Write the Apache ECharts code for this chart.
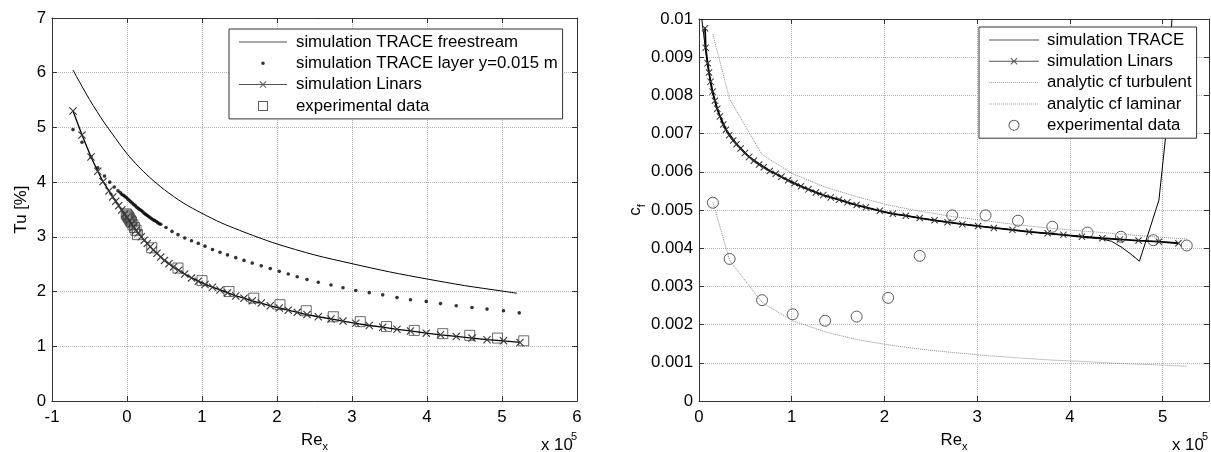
<!DOCTYPE html>
<html>
<head>
<meta charset="utf-8">
<script src="https://cdn.jsdelivr.net/npm/echarts@6/dist/echarts.min.js"></script>
<style>
  html, body { margin: 0; background: #fff; }
  #chart { width: 1211px; height: 452px; }
</style>
</head>
<body>
<div id="chart"></div>
<script>
// ---- left panel: Tu [%] over Re_x (x 10^5) ----
const tuFreeX = [-0.72, -0.6, -0.5, -0.4, -0.3, -0.2, -0.1, 0, 0.15, 0.3, 0.5, 0.75, 1.0, 1.25, 1.5, 1.75, 2.0, 2.5, 3.0, 3.5, 4.0, 4.5, 5.0, 5.2]
const tuFreeY = [6.05, 5.75, 5.51, 5.29, 5.08, 4.89, 4.70, 4.52, 4.29, 4.09, 3.86, 3.62, 3.43, 3.26, 3.12, 2.99, 2.87, 2.67, 2.51, 2.36, 2.23, 2.11, 2.01, 1.97]

const tuLayerX = [-0.72, -0.60, -0.48, -0.39, -0.30, -0.23, -0.17, -0.12,
  -0.09, -0.07, -0.05, -0.03, -0.01, 0.01, 0.03, 0.05, 0.07, 0.09, 0.11, 0.13, 0.15, 0.17, 0.19, 0.21,
  0.23, 0.25, 0.27, 0.29, 0.31, 0.33, 0.35, 0.37, 0.39, 0.41, 0.43, 0.45,
  0.52, 0.60, 0.68, 0.77, 0.86, 0.95, 1.04, 1.14, 1.24, 1.34, 1.45, 1.56, 1.67, 1.79, 1.91, 2.03,
  2.15, 2.27, 2.40, 2.55, 2.72, 2.88, 3.05, 3.23, 3.41, 3.60, 3.78, 3.99, 4.18, 4.39, 4.60, 4.80, 5.02, 5.23]
const tuLayerY = [4.96, 4.73, 4.46, 4.26, 4.11, 4.00, 3.91, 3.84,
  3.81, 3.78, 3.76, 3.74, 3.72, 3.69, 3.67, 3.64, 3.62, 3.59, 3.57, 3.54, 3.52, 3.50, 3.48, 3.46,
  3.43, 3.41, 3.39, 3.37, 3.35, 3.33, 3.31, 3.30, 3.28, 3.26, 3.24, 3.23,
  3.17, 3.10, 3.04, 2.98, 2.93, 2.88, 2.83, 2.77, 2.72, 2.67, 2.62, 2.57, 2.52, 2.47, 2.42, 2.37,
  2.32, 2.27, 2.22, 2.17, 2.12, 2.07, 2.02, 1.98, 1.94, 1.89, 1.85, 1.82, 1.78, 1.74, 1.71, 1.68, 1.65, 1.61]

const tuLinarsX = [-0.72, -0.60, -0.48, -0.39, -0.32, -0.24, -0.19, -0.15, -0.11, -0.07, -0.03, 0.00,
  0.03, 0.06, 0.09, 0.12, 0.15, 0.19, 0.23, 0.27, 0.31, 0.35, 0.40, 0.45, 0.50, 0.56, 0.62, 0.69,
  0.77, 0.86, 0.95, 1.04, 1.14, 1.24, 1.34, 1.45, 1.56, 1.67, 1.79, 1.91, 2.03, 2.15, 2.27, 2.40,
  2.55, 2.72, 2.88, 3.05, 3.23, 3.41, 3.60, 3.78, 3.99, 4.18, 4.39, 4.60, 4.80, 5.02, 5.24]
const tuLinarsY = [5.30, 4.86, 4.46, 4.20, 4.01, 3.84, 3.73, 3.65, 3.57, 3.49, 3.42, 3.36,
  3.30, 3.24, 3.18, 3.12, 3.07, 3.00, 2.94, 2.88, 2.82, 2.76, 2.70, 2.63, 2.57, 2.51, 2.45, 2.39,
  2.32, 2.25, 2.19, 2.13, 2.08, 2.03, 1.98, 1.92, 1.88, 1.83, 1.79, 1.74, 1.70, 1.66, 1.62, 1.58,
  1.54, 1.50, 1.46, 1.42, 1.38, 1.35, 1.31, 1.28, 1.24, 1.21, 1.18, 1.15, 1.12, 1.10, 1.07]

const tuExpX = [-0.01, 0.00, 0.01, 0.02, 0.03, 0.04, 0.05, 0.06, 0.08, 0.10, 0.12, 0.14,
  0.33, 0.68, 1.00, 1.36, 1.69, 2.04, 2.39, 2.75, 3.11, 3.46, 3.83, 4.21, 4.57, 4.94, 5.29]
const tuExpY = [3.42, 3.40, 3.38, 3.36, 3.34, 3.31, 3.29, 3.27, 3.22, 3.17, 3.12, 3.04,
  2.80, 2.43, 2.20, 2.00, 1.88, 1.76, 1.65, 1.54, 1.45, 1.36, 1.29, 1.23, 1.20, 1.15, 1.10]

// ---- right panel: c_f over Re_x (x 10^5) ----
const cfTraceX = [0.03, 0.05, 0.07, 0.10, 0.14, 0.20, 0.30, 0.40, 0.55, 0.80, 1.00, 1.34, 1.69, 2.05, 2.41,
  2.77, 3.13, 3.56, 4.10, 4.35, 4.45, 4.56, 4.67, 4.75, 4.96, 5.04, 5.10]
const cfTraceY = [0.0100, 0.0096, 0.0092, 0.0087, 0.0081, 0.0076, 0.00709, 0.00676, 0.00638, 0.00598, 0.00571,
  0.00539, 0.00513, 0.00492, 0.00478, 0.00465, 0.00455, 0.00443, 0.00431, 0.00424, 0.00418, 0.00402,
  0.00382, 0.00366, 0.00526, 0.00710, 0.0100]

const cfLinarsX = [0.065, 0.072, 0.093, 0.108, 0.125, 0.147, 0.172, 0.197, 0.226, 0.262, 0.290, 0.326,
  0.369, 0.405, 0.448, 0.495, 0.541, 0.591, 0.649, 0.699, 0.763, 0.828, 0.889, 0.961, 1.03, 1.10,
  1.18, 1.26, 1.34, 1.42, 1.51, 1.60, 1.70, 1.80, 1.95, 2.09, 2.23, 2.38, 2.54, 2.68, 2.84, 3.01,
  3.18, 3.38, 3.56, 3.76, 3.93, 4.13, 4.35, 4.54, 4.74, 4.96, 5.17]
const cfLinarsY = [0.00976, 0.00925, 0.00884, 0.00860, 0.00836, 0.00810, 0.00786, 0.00765, 0.00745,
  0.00724, 0.00710, 0.00696, 0.00682, 0.00672, 0.00661, 0.00649, 0.00639, 0.00629, 0.00619, 0.00612,
  0.00602, 0.00595, 0.00587, 0.00578, 0.00570, 0.00562, 0.00554, 0.00546, 0.00539, 0.00533, 0.00527,
  0.00520, 0.00513, 0.00507, 0.00498, 0.00490, 0.00485, 0.00479, 0.00473, 0.00468, 0.00463, 0.00458,
  0.00453, 0.00448, 0.00443, 0.00439, 0.00435, 0.00430, 0.00426, 0.00423, 0.00420, 0.00417, 0.00413]

const cfExpX = [0.15, 0.33, 0.68, 1.01, 1.36, 1.70, 2.04, 2.38, 2.73, 3.09, 3.44, 3.81, 4.19, 4.55, 4.90, 5.26]
const cfExpY = [0.00519, 0.00372, 0.00264, 0.00227, 0.00210, 0.00221, 0.00270, 0.00380, 0.00486, 0.00486,
  0.00472, 0.00456, 0.00441, 0.00430, 0.00421, 0.00407]
const cfTurbY = [0.0096, 0.0079, 0.00645, 0.00595, 0.00560, 0.00535, 0.00513, 0.00497, 0.00483, 0.00472,
  0.00461, 0.00452, 0.00444, 0.00437, 0.00430, 0.00424]
const cfLamY = [0.00520, 0.00368, 0.00258, 0.00210, 0.00181, 0.00161, 0.00147, 0.00136, 0.00127, 0.00119,
  0.00113, 0.00107, 0.00103, 0.00098, 0.00095, 0.00091]

const zip = (xs, ys) => xs.map((x, i) => [x, ys[i]])

const FONT = 'Liberation Sans'
const FS = 16.8
const AXIS = '#333'

// legend icons (w x 14 box marked by tiny corner squares)
const box = (w) => `M0,0h0.01v0.01h-0.01Z M${w - 0.01},13.99h0.01v0.01h-0.01Z `
const icon = {
  line: (w) => 'path://' + box(w) + `M0,6.5H${w}V7.5H0Z`,
  dot: (w) => 'path://' + box(w) + `M${w / 2 - 1.8},7 A1.8,1.8 0 1 1 ${w / 2 + 1.8},7 A1.8,1.8 0 1 1 ${w / 2 - 1.8},7Z`,
  cross: (w) => {
    const c = w / 2
    return 'path://' + box(w) + `M0,6.5H${w}V7.5H0Z ` +
      `M${c - 3.5},4.2L${c - 2.8},3.5L${c + 3.5},9.8L${c + 2.8},10.5Z ` +
      `M${c + 2.8},3.5L${c + 3.5},4.2L${c - 2.8},10.5L${c - 3.5},9.8Z`
  },
  square: (w) => {
    const c = w / 2
    return 'path://' + box(w) + `M${c - 5},2H${c + 5}V12H${c - 5}Z M${c - 4},3V11H${c + 4}V3Z`
  },
  circle: (w) => {
    const c = w / 2
    return 'path://' + box(w) +
      `M${c - 5.5},7 A5.5,5.5 0 1 1 ${c + 5.5},7 A5.5,5.5 0 1 1 ${c - 5.5},7Z ` +
      `M${c - 4.5},7 A4.5,4.5 0 1 0 ${c + 4.5},7 A4.5,4.5 0 1 0 ${c - 4.5},7Z`
  },
  dotted: (w) => {
    let s = 'path://' + box(w)
    for (let x = 0; x < w; x += 2) s += `M${x},6.5h1v1h-1Z `
    return s
  }
}

const crossSymbol = 'path://M0,1L1,0L5,4L9,0L10,1L6,5L10,9L9,10L5,6L1,10L0,9L4,5Z'

const subRich = {
  a: { fontFamily: FONT, fontSize: FS, color: '#000', lineHeight: 24, verticalAlign: 'middle' },
  b: { fontFamily: FONT, fontSize: 11, color: '#000', lineHeight: 24, verticalAlign: 'bottom' }
}

function mainX(grid, min, max, extraLabel) {
  return {
    gridIndex: grid, type: 'value', position: 'bottom', min: min, max: max, interval: 1,
    axisLine: { show: true, onZero: false, lineStyle: { color: AXIS, width: 1 } },
    axisTick: { show: true, inside: true, length: 5, lineStyle: { color: AXIS } },
    axisLabel: Object.assign({ fontFamily: FONT, fontSize: FS, color: '#000', margin: 8 }, extraLabel || {}),
    splitLine: { show: true, lineStyle: { type: 'dotted', color: '#b8b8b8', width: 1 } },
    name: '{a|Re}{b|x}', nameLocation: 'middle', nameGap: 27,
    nameTextStyle: { rich: subRich }
  }
}
function mirrorX(grid, min, max) {
  return {
    gridIndex: grid, type: 'value', position: 'top', min: min, max: max, interval: 1,
    axisLine: { show: true, onZero: false, lineStyle: { color: AXIS, width: 1 } },
    axisTick: { show: true, inside: true, length: 5, lineStyle: { color: AXIS } },
    axisLabel: { show: false }, splitLine: { show: false }
  }
}
function mainY(grid, min, max, interval, name, nameGap) {
  return {
    gridIndex: grid, type: 'value', position: 'left', min: min, max: max, interval: interval,
    axisLine: { show: true, onZero: false, lineStyle: { color: AXIS, width: 1 } },
    axisTick: { show: true, inside: true, length: 5, lineStyle: { color: AXIS } },
    axisLabel: { fontFamily: FONT, fontSize: FS, color: '#000', margin: 6 },
    splitLine: { show: true, lineStyle: { type: 'dotted', color: '#b8b8b8', width: 1 } },
    name: name, nameLocation: 'middle', nameGap: nameGap, nameRotate: 90,
    nameTextStyle: { fontFamily: FONT, fontSize: FS, color: '#000', rich: subRich }
  }
}
function mirrorY(grid, min, max, interval) {
  return {
    gridIndex: grid, type: 'value', position: 'right', min: min, max: max, interval: interval,
    axisLine: { show: true, onZero: false, lineStyle: { color: AXIS, width: 1 } },
    axisTick: { show: true, inside: true, length: 5, lineStyle: { color: AXIS } },
    axisLabel: { show: false }, splitLine: { show: false }
  }
}

const legendBase = {
  orient: 'vertical', itemHeight: 14, itemGap: 1.3, selectedMode: false,
  backgroundColor: '#fff', borderColor: '#333', borderWidth: 1, borderRadius: 0,
  textStyle: { fontFamily: FONT, fontSize: FS, color: '#000', lineHeight: 20, padding: [0, 0, 0, 4] }
}
const legItem = (name, ic, color) => ({ name: name, icon: ic, itemStyle: { color: color, borderWidth: 0, borderColor: 'rgba(0,0,0,0)' } })

const chart = echarts.init(document.getElementById('chart'), null, { renderer: 'canvas' })
chart.setOption({
  animation: false,
  backgroundColor: '#fff',
  grid: [
    { left: 52, top: 18, width: 525, height: 383, outerBoundsMode: 'none', containLabel: false },
    { left: 699, top: 19, width: 510, height: 382, outerBoundsMode: 'none', containLabel: false }
  ],
  xAxis: [
    mainX(0, -1, 6),
    mirrorX(0, -1, 6),
    mainX(1, 0, 5.5, { showMaxLabel: false }),
    mirrorX(1, 0, 5.5)
  ],
  yAxis: [
    mainY(0, 0, 7, 1, 'Tu [%]', 22),
    mirrorY(0, 0, 7, 1),
    mainY(1, 0, 0.01, 0.001, '{a|c}{b|f}', 47),
    mirrorY(1, 0, 0.01, 0.001)
  ],
  legend: [
    Object.assign({}, legendBase, {
      left: 229, top: 29, itemWidth: 48, padding: [3, 5, 3, 10],
      data: [
        legItem('simulation TRACE freestream', icon.line(48), '#555'),
        legItem('simulation TRACE layer y=0.015 m', icon.dot(48), '#000'),
        legItem('simulation Linars', icon.cross(48), '#555'),
        legItem('experimental data', icon.square(48), '#333')
      ]
    }),
    Object.assign({}, legendBase, {
      left: 979, top: 27, itemWidth: 50, padding: [3, 5, 3, 10],
      textStyle: Object.assign({}, legendBase.textStyle, { padding: [0, 0, 0, 3] }),
      data: [
        legItem('simulation TRACE', icon.line(50), '#555'),
        legItem('simulation Linars', icon.cross(50), '#555'),
        legItem('analytic cf turbulent', icon.dotted(50), '#aaa'),
        legItem('analytic cf laminar', icon.dotted(50), '#aaa'),
        legItem('experimental data', icon.circle(50), '#333')
      ]
    })
  ],
  graphic: [
    { type: 'text', left: 541, top: 437, style: { text: 'x 10', font: FS + 'px "' + FONT + '"', fill: '#000' } },
    { type: 'text', left: 571, top: 431, style: { text: '5', font: '11px "' + FONT + '"', fill: '#000' } },
    { type: 'text', left: 1172, top: 437, style: { text: 'x 10', font: FS + 'px "' + FONT + '"', fill: '#000' } },
    { type: 'text', left: 1202, top: 431, style: { text: '5', font: '11px "' + FONT + '"', fill: '#000' } }
  ],
  series: [
    {
      name: 'simulation TRACE freestream', type: 'line', xAxisIndex: 0, yAxisIndex: 0,
      data: zip(tuFreeX, tuFreeY), symbol: 'none', smooth: 0.3,
      lineStyle: { color: '#000', width: 1 }, itemStyle: { color: '#000' }
    },
    {
      name: 'simulation TRACE layer y=0.015 m', type: 'scatter', xAxisIndex: 0, yAxisIndex: 0,
      data: zip(tuLayerX, tuLayerY), symbol: 'circle', symbolSize: 3.6,
      itemStyle: { color: '#000' }
    },
    {
      name: 'simulation Linars', type: 'line', xAxisIndex: 0, yAxisIndex: 0,
      data: zip(tuLinarsX, tuLinarsY), symbol: crossSymbol, symbolSize: 8, showAllSymbol: true,
      lineStyle: { color: '#000', width: 1.3 }, itemStyle: { color: '#3a3a3a' }
    },
    {
      name: 'experimental data', type: 'scatter', xAxisIndex: 0, yAxisIndex: 0,
      data: zip(tuExpX, tuExpY), symbol: 'rect', symbolSize: 10,
      itemStyle: { color: 'rgba(0,0,0,0)', borderColor: '#444', borderWidth: 1 }
    },
    {
      name: 'simulation TRACE', type: 'line', xAxisIndex: 2, yAxisIndex: 2,
      data: zip(cfTraceX, cfTraceY), symbol: 'none',
      lineStyle: { color: '#000', width: 1 }, itemStyle: { color: '#000' }
    },
    {
      name: 'simulation Linars', type: 'line', xAxisIndex: 2, yAxisIndex: 2,
      data: zip(cfLinarsX, cfLinarsY), symbol: crossSymbol, symbolSize: 7, showAllSymbol: true,
      lineStyle: { color: '#000', width: 1.8 }, itemStyle: { color: '#333' }
    },
    {
      name: 'analytic cf turbulent', type: 'line', xAxisIndex: 2, yAxisIndex: 2,
      data: zip(cfExpX, cfTurbY), symbol: 'none',
      lineStyle: { color: '#8c8c8c', width: 1, type: 'dotted' }
    },
    {
      name: 'analytic cf laminar', type: 'line', xAxisIndex: 2, yAxisIndex: 2,
      data: zip(cfExpX, cfLamY), symbol: 'none',
      lineStyle: { color: '#8c8c8c', width: 1, type: 'dotted' }
    },
    {
      name: 'experimental data', type: 'scatter', xAxisIndex: 2, yAxisIndex: 2,
      data: zip(cfExpX, cfExpY), symbol: 'circle', symbolSize: 11,
      itemStyle: { color: 'rgba(0,0,0,0)', borderColor: '#333', borderWidth: 1 }
    }
  ]
})
</script>
</body>
</html>
